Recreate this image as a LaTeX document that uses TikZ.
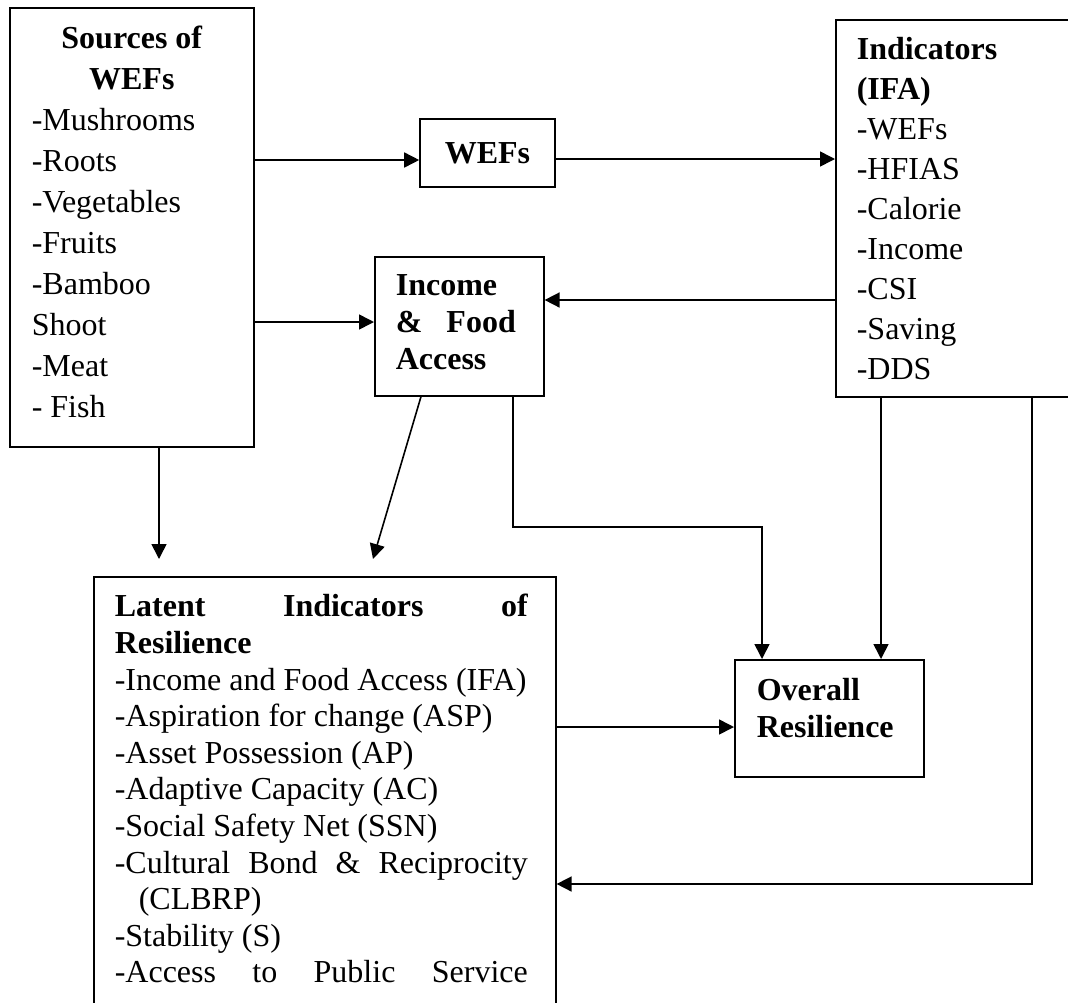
\documentclass[tikz,border=0pt]{standalone}
\usepackage{fontspec}
\setmainfont{Liberation Serif}
\setlength{\parindent}{0pt}
\usetikzlibrary{arrows.meta}

\begin{document}
\begin{tikzpicture}[x=1pt, y=-1pt, line width=1.6pt,
    bx/.style={draw, anchor=north west, inner ysep=0pt,
      execute at begin node={\spaceskip=0pt\xspaceskip=0pt\relax}},
    ar/.style={-{Triangle[length=15pt, width=15pt]}}]
  \useasboundingbox (0,0) rectangle (1068,1002);
  \clip (0,0) rectangle (1068,1002);
  \node[bx, inner xsep=22pt, text width=200pt, text height=41pt, text depth=398pt,
        font=\fontsize{32}{41}\selectfont] (src) at (9,7)
    {\makebox[200pt]{\bfseries Sources of}\\\makebox[200pt]{\bfseries WEFs}\\-Mushrooms\\-Roots\\-Vegetables\\-Fruits\\-Bamboo\\Shoot\\-Meat\\- Fish};
  \node[draw, minimum width=135pt, minimum height=68pt,
        font=\fontsize{32}{38}\selectfont\bfseries] (wef) at (487.5,153) {WEFs};
  \node[bx, inner xsep=21pt, text width=127pt, text height=39pt, text depth=100pt,
        font=\fontsize{32}{37}\selectfont\bfseries] (inc) at (374,256)
    {Income\\\makebox[120pt][l]{\&\hfill Food}\\Access};
  \node[bx, inner xsep=21pt, text width=198pt, text height=40pt, text depth=337pt,
        font=\fontsize{32}{40}\selectfont] (ind) at (835,19)
    {\textbf{Indicators}\\\textbf{(IFA)}\\-WEFs\\-HFIAS\\-Calorie\\-Income\\-CSI\\-Saving\\-DDS};
  \node[bx, inner xsep=21pt, text width=420pt, text height=40pt, text depth=399pt,
        font=\fontsize{32}{36.6}\selectfont] (lat) at (93,576)
    {\makebox[413pt][l]{\bfseries Latent\hfill Indicators\hfill of}\\\textbf{Resilience}\\\mbox{-Income and Food Access (IFA)}\\-Aspiration for change (ASP)\\-Asset Possession (AP)\\-Adaptive Capacity (AC)\\-Social Safety Net (SSN)\\\makebox[413pt][l]{-Cultural\hfill Bond\hfill \&\hfill Reciprocity}\\\hspace*{24pt}(CLBRP)\\-Stability (S)\\\makebox[413pt][l]{-Access\hfill to\hfill Public\hfill Service}};
  \node[bx, inner xsep=22pt, text width=145pt, text height=41pt, text depth=76pt,
        font=\fontsize{32}{37}\selectfont\bfseries] (ovr) at (734,659)
    {Overall\\Resilience};
  \coordinate (lt) at ([yshift=17pt]lat.north);
  \draw[ar] (src.east |- 0,160) -- (wef.west |- 0,160);
  \draw[ar] (wef.east |- 0,159) -- (ind.west |- 0,159);
  \draw[ar] (src.east |- 0,322) -- (inc.west |- 0,322);
  \draw[ar] (ind.west |- 0,300) -- (inc.east |- 0,300);
  \draw[ar] (src.south -| 159,0) -- (lt -| 159,0);
  \draw[ar] (inc.south -| 421,0) -- (lt -| 373,0);
  \draw[ar] (inc.south -| 513,0) -- (513,527) -| (ovr.north -| 762,0);
  \draw[ar] (ind.south -| 881,0) -- (ovr.north -| 881,0);
  \draw[ar] (ind.south -| 1032,0) |- (lat.east |- 0,884);
  \draw[ar] (lat.east |- 0,727) -- (ovr.west |- 0,727);
\end{tikzpicture}
\end{document}
